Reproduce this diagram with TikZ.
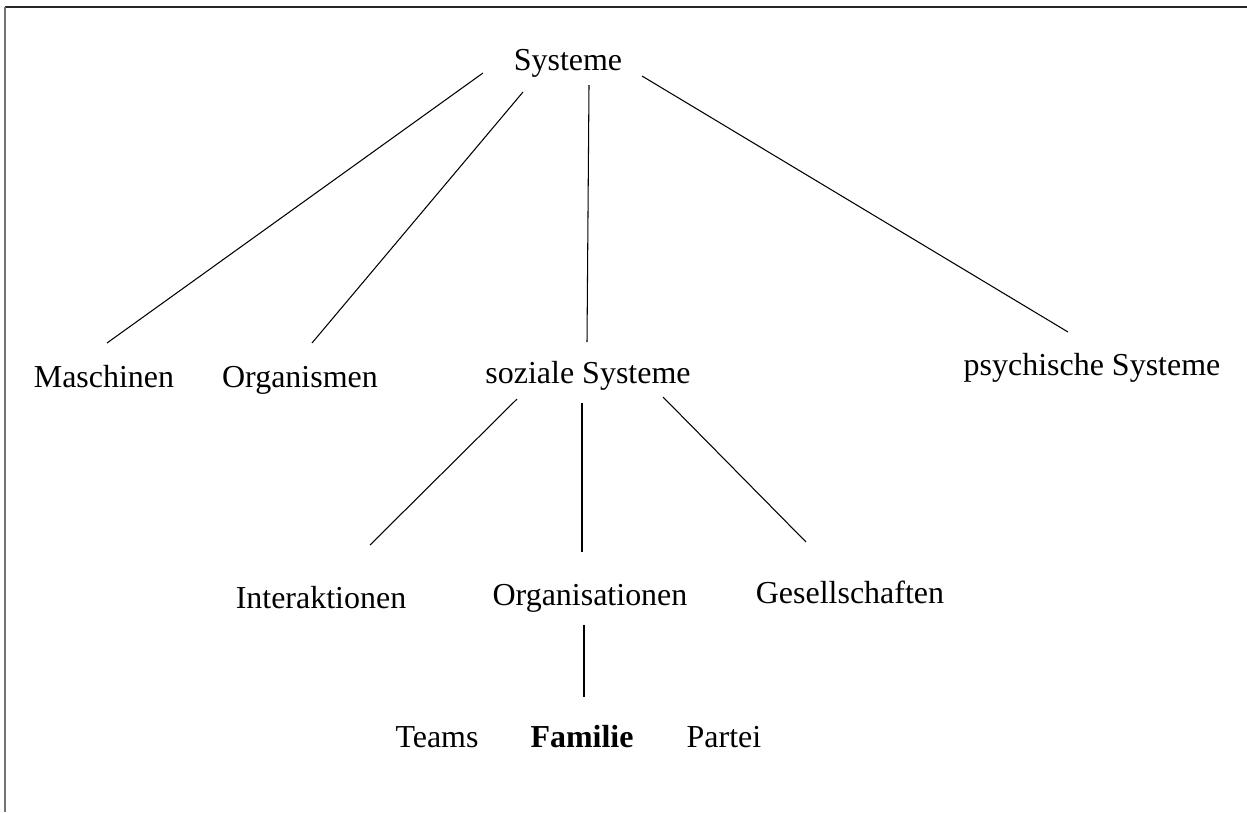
\documentclass[tikz,border=0pt]{standalone}
\usepackage{fontspec}
\setmainfont{Liberation Serif}
\usepackage{xcolor}
\usepackage{tikz}
\tikzset{
  sylabel/.style={font=\fontsize{18.2}{22}\selectfont, inner sep=0pt, anchor=base},
  sybold/.style={sylabel, font=\fontsize{18.2}{22}\selectfont\bfseries},
  sylink/.style={line width=0.6pt, draw=black},
  syframe/.style={line width=1.1pt, draw=black!85, line cap=butt},
  syside/.style={line width=1.1pt, draw=black!55, line cap=butt},
}
\begin{document}
\begin{tikzpicture}[x=0.02cm,y=-0.02cm]
\useasboundingbox (0,0) rectangle (1247,812);
\fill[white] (0,0) rectangle (1247,812);
\draw[syframe] (5,7) -- (1247,7);
\draw[syside] (5,7) -- (5,812);
\node[sylabel] (sys) at (568,70) {Systeme};
\node[sylabel] (masch) at (104,387) {Maschinen};
\node[sylabel] (orga) at (300,387) {Organismen};
\node[sylabel] (sozial) at (588,383) {soziale Systeme};
\node[sylabel] (psych) at (1092,375) {psychische Systeme};
\node[sylabel] (inter) at (321,608) {Interaktionen};
\node[sylabel] (organis) at (590,605) {Organisationen};
\node[sylabel] (gesell) at (850,603) {Gesellschaften};
\node[sylabel] (teams) at (437,747) {Teams};
\node[sybold] (familie) at (582,747) {Familie};
\node[sylabel] (partei) at (724,747) {Partei};
\draw[sylink] ([shift={(-85,3)}]sys.base) -- ([shift={(3,-44)}]masch.base);
\draw[sylink] ([shift={(-45,22)}]sys.base) -- ([shift={(12,-44)}]orga.base);
\draw[sylink] ([shift={(21,15)}]sys.base) -- ([shift={(-1,-41)}]sozial.base);
\draw[sylink] ([shift={(74,6)}]sys.base) -- ([shift={(-24,-43)}]psych.base);
\draw[sylink] ([shift={(-71,16)}]sozial.base) -- ([shift={(49,-63)}]inter.base);
\draw[sylink] ([shift={(-6,20)}]sozial.base) -- ([shift={(-8,-53)}]organis.base);
\draw[sylink] ([shift={(75,14)}]sozial.base) -- ([shift={(-44,-61)}]gesell.base);
\draw[sylink] ([shift={(-6,20)}]organis.base) -- ([shift={(2,-50)}]familie.base);
\end{tikzpicture}
\end{document}
